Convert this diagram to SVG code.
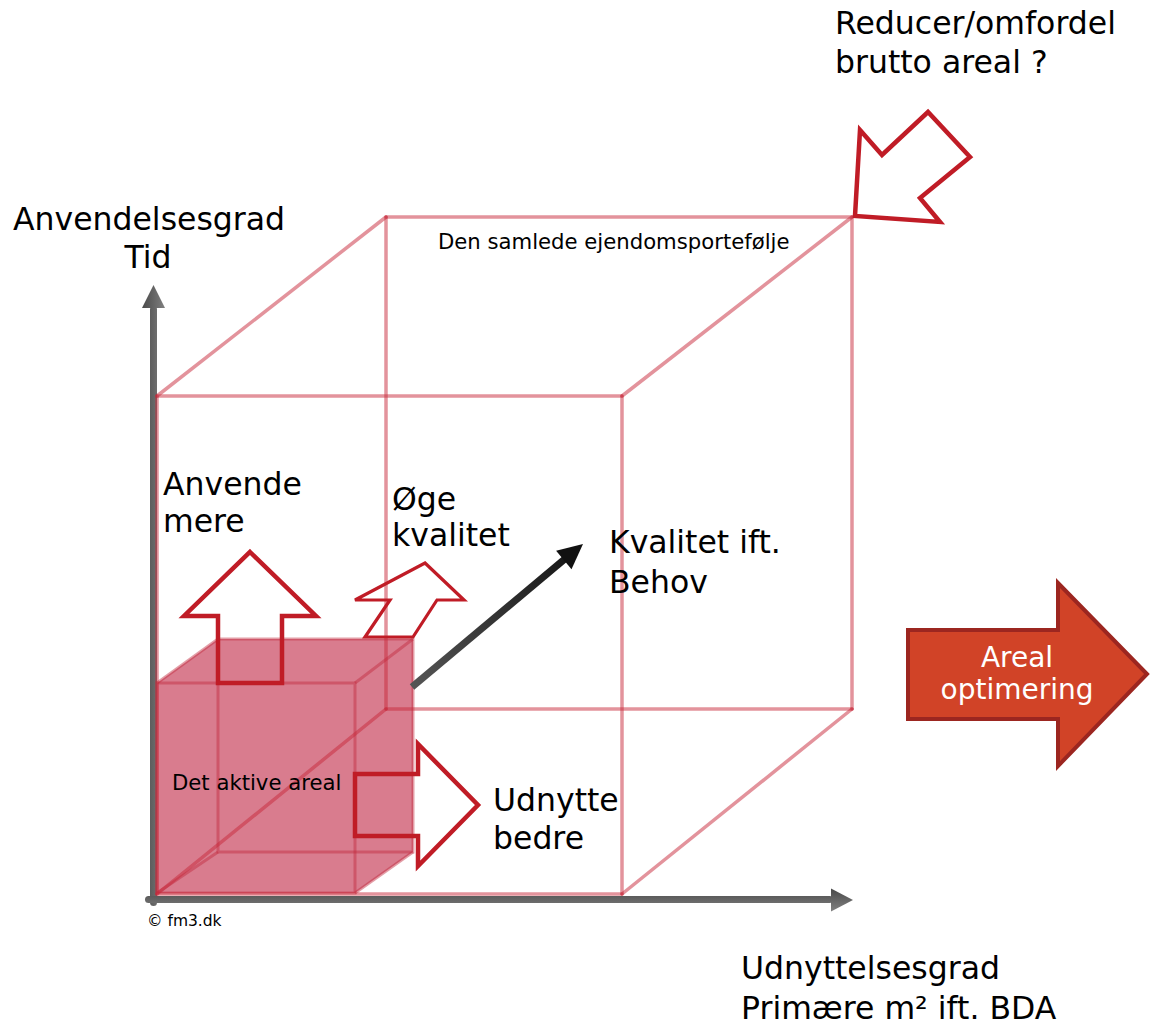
<svg xmlns="http://www.w3.org/2000/svg" width="1151" height="1025" viewBox="0 0 1151 1025">
<style>
text{font-family:"DejaVu Sans","Verdana",sans-serif;fill:#000}
.big{font-size:31.5px}
.small{font-size:21.2px}
.edge{stroke:#c8283a;stroke-opacity:0.5;stroke-width:3.5;fill:none;stroke-linecap:round}
.sedge{stroke:#c0283c;stroke-opacity:0.45;stroke-width:3;fill:none}
.outl{fill:none;stroke:#c01c26;stroke-width:4.5;stroke-linejoin:miter}
</style>
<defs>
<linearGradient id="gv" gradientUnits="userSpaceOnUse" x1="142" y1="0" x2="165" y2="0"><stop offset="0" stop-color="#4a4a4a"/><stop offset="1" stop-color="#808080"/></linearGradient>
<linearGradient id="gh" gradientUnits="userSpaceOnUse" x1="0" y1="889" x2="0" y2="911"><stop offset="0" stop-color="#4a4a4a"/><stop offset="1" stop-color="#808080"/></linearGradient>
<linearGradient id="gb" gradientUnits="userSpaceOnUse" x1="412" y1="687" x2="583" y2="544"><stop offset="0" stop-color="#555"/><stop offset="1" stop-color="#111"/></linearGradient>
</defs>
<rect width="1151" height="1025" fill="#fff"/>
<g id="axes">
<rect x="150" y="306" width="7" height="600" rx="3.5" fill="url(#gv)"/>
<polygon points="153.5,285 165,308 142,308" fill="url(#gv)"/>
<rect x="145" y="896" width="688" height="7" rx="3.5" fill="url(#gh)"/>
<polygon points="831,888.5 853,900 831,911.5" fill="url(#gh)"/>
</g>
<g id="active-area">
<polygon points="157,683 218,639 413,639 413,852 355,893 157,893" fill="#be1e3c" fill-opacity="0.58"/>
<rect x="157" y="683" width="198" height="210" class="sedge"/>
<rect x="218" y="639" width="195" height="213" class="sedge"/>
<line x1="157" y1="683" x2="218" y2="639" class="sedge"/>
<line x1="355" y1="683" x2="413" y2="639" class="sedge"/>
<line x1="355" y1="893" x2="413" y2="852" class="sedge"/>
<line x1="157" y1="893" x2="218" y2="852" class="sedge"/>
</g>
<g id="portfolio">
<line x1="157" y1="396" x2="622" y2="396" class="edge"/>
<line x1="622" y1="396" x2="622" y2="894" class="edge"/>
<line x1="157" y1="894" x2="622" y2="894" class="edge"/>
<line x1="157" y1="396" x2="157" y2="894" class="edge"/>
<line x1="386" y1="217" x2="852" y2="217" class="edge"/>
<line x1="852" y1="217" x2="852" y2="709" class="edge"/>
<line x1="386" y1="709" x2="852" y2="709" class="edge"/>
<line x1="386" y1="217" x2="386" y2="709" class="edge"/>
<line x1="157" y1="396" x2="386" y2="217" class="edge"/>
<line x1="622" y1="396" x2="852" y2="217" class="edge"/>
<line x1="622" y1="894" x2="852" y2="709" class="edge"/>
<line x1="157" y1="894" x2="386" y2="709" class="edge"/>
<text x="438" y="249" class="small">Den samlede ejendomsportefølje</text>
</g>
<g id="connectors">
<line x1="412" y1="687" x2="566" y2="558" stroke="url(#gb)" stroke-width="7"/>
<polygon points="583,544 571.5,569.2 556.1,550.8" fill="#111"/>
</g>
<g id="anvende-arrow">
<polygon class="outl" points="250,552 316,616 282,616 282,683 218,683 218,616 184,616"/>
</g>
<g id="oege-arrow">
<polygon class="outl" style="stroke-width:3.2" points="425,563 464,600 437,600 413,637 365,637 390,600 355,600"/>
</g>
<g id="udnytte-arrow">
<polygon class="outl" points="355,774 418,774 418,744 478,805 418,866 418,836 355,836"/>
</g>
<g id="reducer-arrow">
<polygon class="outl" points="860,130 882,155 928,112 970,157 920,198 940,222 855,216"/>
</g>
<g id="areal-optimering">
<polygon points="908,630 1058,630 1058,583 1147,674 1058,766 1058,719 908,719" fill="#d14327" stroke="#9c2620" stroke-width="4"/>
<text x="1017" y="667" text-anchor="middle" style="font-size:28px;fill:#fff">Areal</text>
<text x="1017" y="699" text-anchor="middle" style="font-size:28px;fill:#fff">optimering</text>
</g>
<g id="labels">
<text x="835" y="34" class="big">Reducer/omfordel</text>
<text x="835" y="73" class="big">brutto areal ?</text>
<text x="13" y="230" class="big">Anvendelsesgrad</text>
<text x="148" y="268" class="big" text-anchor="middle">Tid</text>
<text x="163" y="495" class="big">Anvende</text>
<text x="163" y="532" class="big">mere</text>
<text x="392" y="510" class="big">Øge</text>
<text x="392" y="546" class="big">kvalitet</text>
<text x="609" y="553" class="big">Kvalitet ift.</text>
<text x="609" y="593" class="big">Behov</text>
<text x="493" y="811" class="big">Udnytte</text>
<text x="493" y="849" class="big">bedre</text>
<text x="172" y="790" class="small">Det aktive areal</text>
<text x="147" y="926" style="font-size:15.5px">© fm3.dk</text>
<text x="741" y="979" class="big">Udnyttelsesgrad</text>
<text x="741" y="1019" class="big">Primære m² ift. BDA</text>
</g>
</svg>
